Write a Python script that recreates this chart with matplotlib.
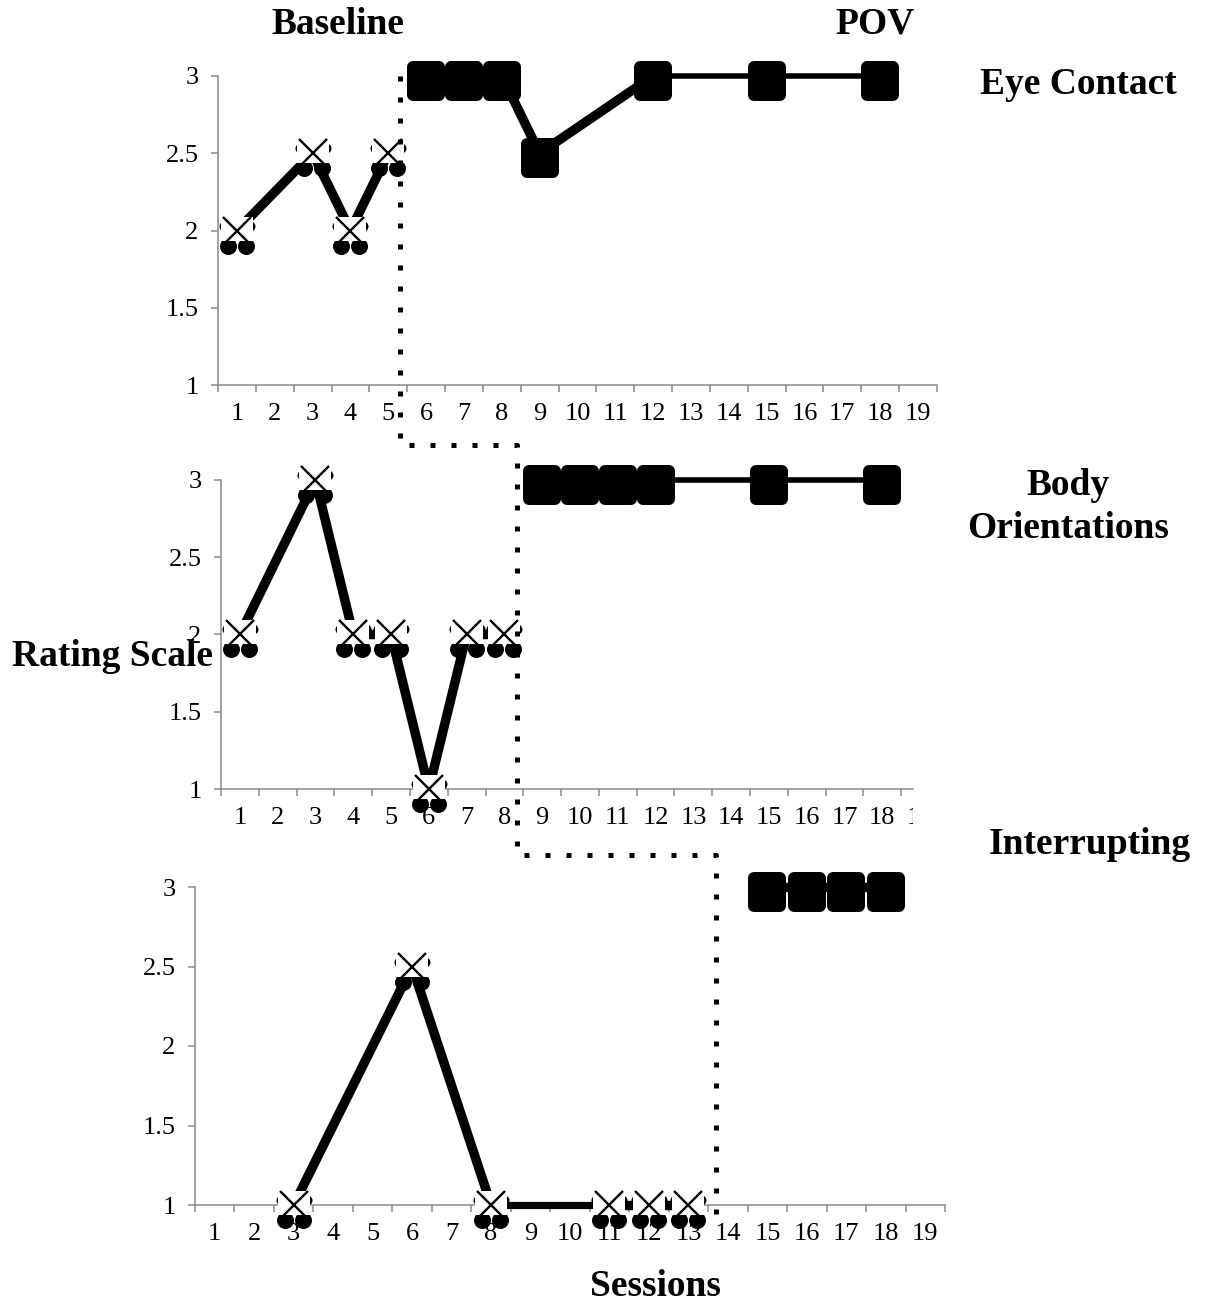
import numpy as np
import matplotlib
matplotlib.use("Agg")
import matplotlib.pyplot as plt
from matplotlib.path import Path
from matplotlib.markers import MarkerStyle
from matplotlib.lines import Line2D
from matplotlib.patches import Rectangle

# ---------------- data ----------------
sessions = list(range(1, 20))
session_labels = [str(s) for s in sessions]
ytick_values = [1, 1.5, 2, 2.5, 3]
ytick_labels = ["1", "1.5", "2", "2.5", "3"]

eye_base_x = [1, 3, 4, 5]
eye_base_y = [2, 2.5, 2, 2.5]
eye_pov_x = [6, 7, 8, 9, 12, 15, 18]
eye_pov_y = [3, 3, 3, 2.5, 3, 3, 3]

body_base_x = [1, 3, 4, 5, 6, 7, 8]
body_base_y = [2, 3, 2, 2, 1, 2, 2]
body_pov_x = [9, 10, 11, 12, 15, 18]
body_pov_y = [3, 3, 3, 3, 3, 3]

int_base_x = [3, 6, 8, 11, 12, 13]
int_base_y = [1, 2.5, 1, 1, 1, 1]
int_pov_x = [15, 16, 17, 18]
int_pov_y = [3, 3, 3, 3]

phase_change_x = [5.3, 8.33, 13.7]

# ---------------- style ----------------
THICK, MED, THIN = 6.8, 5.2, 4.0
eye_base_w = [THICK, THICK, THICK]
eye_pov_w = [THICK, THICK, THICK, THICK, THIN, THIN]
body_base_w = [THICK] * 6
body_pov_w = [THICK, THICK, THICK, THIN, THIN]
int_base_w = [THICK, THICK, MED, THICK, THICK]
int_pov_w = [THICK, THICK, THICK]

W, H = 1205, 1306
GRAY = "#8a8a8a"
plt.rcParams["font.family"] = ["Liberation Serif", "DejaVu Serif"]
fig = plt.figure(figsize=(W / 100, H / 100), dpi=100)


def px_marker(paths):
    p = Path.make_compound_path(*paths)
    m = np.max(np.abs(p.vertices))
    return p, 2 * m * 72 / 100.0


def rect_path(x0, y0, x1, y1):
    return Path([(x0, y0), (x1, y0), (x1, y1), (x0, y1), (x0, y0)],
                [Path.MOVETO, Path.LINETO, Path.LINETO, Path.LINETO, Path.CLOSEPOLY])


lobes_path, lobes_ms = px_marker([Path.circle((-9, -15), 8.5), Path.circle((9, -15), 8.5),
                                  Path.circle((-13, 5), 5), Path.circle((13, 5), 5)])
box_path, box_ms = px_marker([rect_path(-16, -10, 16, 14)])
sq_path, sq_ms = px_marker([rect_path(-13, -19, 13, 9)])
pov_marker = MarkerStyle(sq_path, joinstyle="round")
POV_MEW = 12 * 0.72


def add_ax(l, r, t, b):
    return fig.add_axes([l / W, 1 - b / H, (r - l) / W, (b - t) / H])


def style_ax(ax, xmax_spine, last_minor):
    ax.set_xlim(0.5, 19.5)
    ax.set_ylim(1, 3)
    ax.patch.set_visible(False)
    for s in ["top", "right"]:
        ax.spines[s].set_visible(False)
    for s in ["left", "bottom"]:
        ax.spines[s].set_color(GRAY)
        ax.spines[s].set_linewidth(1.1)
    ax.spines["bottom"].set_bounds(0.5, xmax_spine)
    ax.set_xticks(sessions)
    ax.set_xticklabels(session_labels)
    ax.set_xticks(np.arange(0.5, last_minor + 0.01, 1), minor=True)
    ax.tick_params(axis="x", which="major", length=0, pad=13, labelsize=19)
    ax.tick_params(axis="x", which="minor", length=5, width=1.1, color=GRAY, direction="out")
    ax.set_yticks(ytick_values)
    ax.set_yticklabels(ytick_labels)
    ax.tick_params(axis="y", length=5, width=1.1, color=GRAY, pad=9, labelsize=19)


def draw_series(ax, xs, ys, widths, baseline):
    for i in range(len(xs) - 1):
        ax.plot(xs[i:i + 2], ys[i:i + 2], color="k", lw=widths[i],
                solid_capstyle="butt", clip_on=False, zorder=2.7)
    if baseline:
        ax.plot(xs, ys, ls="none", marker=lobes_path, ms=lobes_ms, mfc="k", mew=0,
                clip_on=False, zorder=3)
        ax.plot(xs, ys, ls="none", marker=box_path, ms=box_ms, mfc="white", mew=0,
                clip_on=False, zorder=4)
        ax.plot(xs, ys, ls="none", marker="x", ms=20, mec="k", mew=1.7,
                clip_on=False, zorder=5)
    else:
        ax.plot(xs, ys, ls="none", marker=pov_marker, ms=sq_ms, mfc="k", mec="k", mew=POV_MEW,
                clip_on=False, zorder=3)


ax1 = add_ax(218, 937, 76, 385)
style_ax(ax1, 19.5, 19.5)
ax2 = add_ax(221, 939, 480, 789)
style_ax(ax2, 18.8, 18.5)
ax3 = add_ax(195, 945, 887, 1205)
style_ax(ax3, 19.5, 19.5)

draw_series(ax1, eye_base_x, eye_base_y, eye_base_w, True)
draw_series(ax1, eye_pov_x, eye_pov_y, eye_pov_w, False)
draw_series(ax2, body_base_x, body_base_y, body_base_w, True)
draw_series(ax2, body_pov_x, body_pov_y, body_pov_w, False)
draw_series(ax3, int_base_x, int_base_y, int_base_w, True)
draw_series(ax3, int_pov_x, int_pov_y, int_pov_w, False)

# mask for the clipped chart area of the middle panel
fig.add_artist(Rectangle((913 / W, 1 - 840 / H), 30 / W, 48 / H, transform=fig.transFigure,
                         facecolor="white", edgecolor="none", zorder=10))

# phase-change line
inv = fig.transFigure.inverted()


def fpt(ax, x, y):
    return inv.transform(ax.transData.transform((x, y)))


y_conn1 = 1 - 445 / H
y_conn2 = 1 - 855 / H
p_top = fpt(ax1, phase_change_x[0], 3)
x1 = p_top[0]
x2 = fpt(ax2, phase_change_x[1], 3)[0]
x3 = fpt(ax3, phase_change_x[2], 3)[0]
y_end = fpt(ax3, phase_change_x[2], 0.94)[1]
xs = [x1, x1, x2, x2, x3, x3]
ys = [p_top[1], y_conn1, y_conn1, y_conn2, y_conn2, y_end]
fig.add_artist(Line2D(xs, ys, transform=fig.transFigure, color="k", lw=3.6,
                      linestyle=(0, (1, 3.2)), dash_capstyle="butt", zorder=11))

# texts
TS = 27
def ftext(x, y, s, **kw):
    fig.text(x / W, 1 - y / H, s, ha="center", va="center", fontsize=TS,
             fontweight="bold", zorder=12, **kw)

ftext(338, 24, "Baseline")
ftext(875, 24, "POV")
ftext(1078, 84, "Eye Contact")
ftext(1068, 507, "Body\nOrientations", linespacing=1.3)
ftext(113, 657, "Rating Scale")
ftext(1090, 845, "Interrupting")
ftext(655, 1287, "Sessions")

fig.savefig("out.png", dpi=100)
